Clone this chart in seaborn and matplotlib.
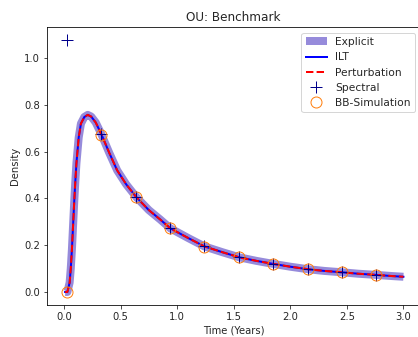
import numpy as np
import matplotlib
matplotlib.use("Agg")
import matplotlib.pyplot as plt
import seaborn as sns

# density curve
t_curve = [0.01, 0.03, 0.05, 0.06, 0.07, 0.08, 0.09, 0.10, 0.11, 0.13, 0.15, 0.18,
           0.21, 0.24, 0.28, 0.33, 0.40, 0.47, 0.55, 0.64, 0.75, 0.85, 0.94, 1.10,
           1.24, 1.40, 1.55, 1.70, 1.85, 2.00, 2.16, 2.30, 2.46, 2.60, 2.76, 2.90, 3.00]
dens_curve = [0.0, 0.0, 0.04, 0.10, 0.18, 0.28, 0.38, 0.47, 0.55, 0.66, 0.72, 0.748,
              0.757, 0.75, 0.725, 0.675, 0.595, 0.52, 0.46, 0.405, 0.35, 0.31, 0.272, 0.23,
              0.195, 0.17, 0.148, 0.133, 0.12, 0.108, 0.097, 0.09, 0.084, 0.078, 0.073, 0.068, 0.065]

# sample points
t_pts = [0.03, 0.33, 0.64, 0.94, 1.24, 1.55, 1.85, 2.16, 2.46, 2.76]
spectral = [1.077, 0.675, 0.405, 0.272, 0.195, 0.148, 0.12, 0.097, 0.084, 0.073]
bb_sim = [0.0, 0.67, 0.405, 0.272, 0.194, 0.148, 0.12, 0.097, 0.084, 0.072]

sns.set_style("ticks")
plt.rcParams['font.family'] = ['DejaVu Sans']

fig = plt.figure(figsize=(418/72, 337/72), dpi=72)
ax = fig.add_axes([47/418, 32.4/337, 373.4/418, 277.2/337])

sns.lineplot(x=t_curve, y=dens_curve, ax=ax, color='slateblue', alpha=0.7, lw=8,
             label='Explicit', sort=False, solid_capstyle='butt')
sns.lineplot(x=t_curve, y=dens_curve, ax=ax, color='blue', lw=2, label='ILT', sort=False,
             solid_capstyle='projecting')
sns.lineplot(x=t_curve, y=dens_curve, ax=ax, color='red', lw=2, linestyle='--',
             label='Perturbation', sort=False)
ax.plot(t_pts, spectral, linestyle='none', marker='+', color='darkblue', ms=12, mew=1,
        label='Spectral')
ax.plot(t_pts, bb_sim, linestyle='none', marker='o', mfc='none', mec='tab:orange',
        ms=11, mew=1, label='BB-Simulation')

ax.set_xlim(-0.15, 3.15)
ax.set_ylim(-0.054, 1.131)
ax.set_xticks([0.0, 0.5, 1.0, 1.5, 2.0, 2.5, 3.0])
ax.set_yticks([0.0, 0.2, 0.4, 0.6, 0.8, 1.0])
ax.tick_params(labelsize=10, length=3.5, width=0.8)
ax.set_title('OU: Benchmark', fontsize=12)
ax.set_xlabel('Time (Years)', fontsize=10)
ax.set_ylabel('Density', fontsize=10)
for s in ax.spines.values():
    s.set_visible(True)
    s.set_linewidth(0.8)
    s.set_color('black')
ax.legend(loc='upper right', fontsize=10.6, frameon=True, fancybox=True, framealpha=0.8,
          edgecolor='0.8')

fig.savefig('out.png', dpi=72)
